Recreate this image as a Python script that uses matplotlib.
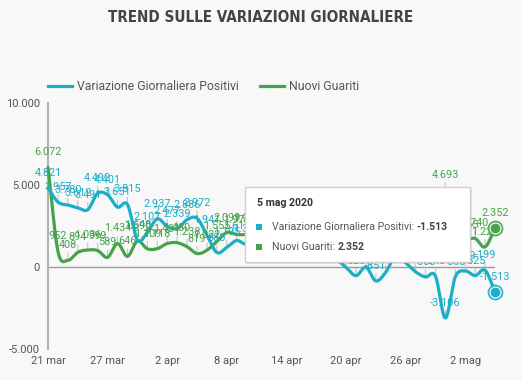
import numpy as np
import matplotlib
matplotlib.use('Agg')
import matplotlib.pyplot as plt
import matplotlib.dates as mdates
from matplotlib.patches import Rectangle
from matplotlib.lines import Line2D
import pandas as pd

# ---------------- data ----------------
dates = pd.date_range('2020-03-21', '2020-05-05', freq='D')
variazione_positivi = [4821, 3957, 3780, 3612, 3491, 4492, 4401, 3651, 3815, 1648,
                       2107, 2937, 2477, 2339, 2886, 2972, 1941, 880, 1195, 1615,
                       1396, 1996, 1984, 1363, 675, 1127, 1189, 355, 809, 486,
                       -20, -528, -10, -851, -321, 680, 256, -290, -608, -548,
                       -3106, -608, -239, -525, -199, -1513]
nuovi_guariti = [6072, 952, 408, 894, 1036, 999, 589, 1434, 646, 1590,
                 1109, 1118, 1431, 1480, 1238, 819, 1022, 1555, 2099, 1979,
                 1985, 2079, 1677, 1224, 1695, 962, 2072, 2563, 2200, 1822,
                 1162, 2723, 2943, 2646, 3033, 2922, 1808, 1696, 2317, 2311,
                 4693, 1872, 1665, 1740, 1225, 2352]
series_names = ['Variazione Giornaliera Positivi', 'Nuovi Guariti']
tick_dates = ['2020-03-21', '2020-03-27', '2020-04-02', '2020-04-08',
              '2020-04-14', '2020-04-20', '2020-04-26', '2020-05-02']
tick_labels = ['21 mar', '27 mar', '2 apr', '8 apr', '14 apr', '20 apr', '26 apr', '2 mag']
y_ticks = [-5000, 0, 5000, 10000]
y_tick_labels = ['-5.000', '0', '5.000', '10.000']
tooltip_date = '5 mag 2020'
title = 'TREND SULLE VARIAZIONI GIORNALIERE'

C_CYAN = '#1aaec7'
C_GREEN = '#46a34a'
TXT = '#555555'

plt.rcParams['font.family'] = ['Roboto', 'DejaVu Sans']

W, H = 522, 380
fig = plt.figure(figsize=(W / 100, H / 100), dpi=100)
fig.patch.set_facecolor('#f8f8f8')

L, R, T, B = 48, 495, 103, 349
ax = fig.add_axes([L / W, 1 - B / H, (R - L) / W, (B - T) / H])
ax.set_facecolor('none')

x = mdates.date2num(dates.to_pydatetime())


def smooth(xv, yv, n=24):
    xv = np.asarray(xv, float)
    yv = np.asarray(yv, float)
    m = np.zeros_like(yv)
    m[1:-1] = (yv[2:] - yv[:-2]) / (xv[2:] - xv[:-2])
    m[0] = (yv[1] - yv[0]) / (xv[1] - xv[0])
    m[-1] = (yv[-1] - yv[-2]) / (xv[-1] - xv[-2])
    xs, ys = [], []
    t = np.linspace(0, 1, n, endpoint=False)
    h00 = 2 * t**3 - 3 * t**2 + 1
    h10 = t**3 - 2 * t**2 + t
    h01 = -2 * t**3 + 3 * t**2
    h11 = t**3 - t**2
    for i in range(len(xv) - 1):
        h = xv[i + 1] - xv[i]
        xs.append(xv[i] + t * h)
        ys.append(h00 * yv[i] + h10 * h * m[i] + h01 * yv[i + 1] + h11 * h * m[i + 1])
    xs.append([xv[-1]])
    ys.append([yv[-1]])
    return np.concatenate(xs), np.concatenate(ys)


def fmt(v):
    return f"{v:,}".replace(',', '.')


ax.set_xlim(x[0], x[-1])
ax.set_ylim(-5000, 10000)

ax.axhline(0, color='#9a9a9a', lw=1.0, zorder=1)

for vals, col in [(nuovi_guariti, C_GREEN), (variazione_positivi, C_CYAN)]:
    sx, sy = smooth(x, vals)
    ax.plot(sx, sy, color=col, lw=2.3, zorder=3, solid_capstyle='round', clip_on=False)

# data labels with leader lines
for vals, col in [(variazione_positivi, C_CYAN), (nuovi_guariti, C_GREEN)]:
    for xi, v in zip(x, vals):
        ax.annotate(fmt(v), xy=(xi, v), xytext=(0, 10), textcoords='offset pixels',
                    ha='center', va='bottom', fontsize=7.8, color='none',
                    arrowprops=dict(arrowstyle='-', color='#c4c4c4', lw=0.8,
                                    shrinkA=0, shrinkB=0),
                    zorder=2, annotation_clip=False)
        ax.annotate(fmt(v), xy=(xi, v), xytext=(0, 10), textcoords='offset pixels',
                    ha='center', va='bottom', fontsize=7.8, color=col, zorder=4,
                    annotation_clip=False)

# highlighted last points
for vals, col in [(variazione_positivi, C_CYAN), (nuovi_guariti, C_GREEN)]:
    ax.plot([x[-1]], [vals[-1]], 'o', ms=10, mfc='#ffffff', mec=col, mew=1.3,
            alpha=0.9, zorder=5, clip_on=False)
    ax.plot([x[-1]], [vals[-1]], 'o', ms=6, mfc=col, mec=col, zorder=6, clip_on=False)

# axes styling
for s in ['top', 'right', 'bottom']:
    ax.spines[s].set_visible(False)
ax.spines['left'].set_color('#b0b0b0')
ax.spines['left'].set_linewidth(1.4)
ax.set_yticks(y_ticks)
ax.set_yticklabels(y_tick_labels)
ax.set_xticks(mdates.date2num(pd.to_datetime(tick_dates).to_pydatetime()))
ax.set_xticklabels(tick_labels)
ax.tick_params(axis='y', length=0, pad=6, labelsize=8, labelcolor=TXT)
ax.tick_params(axis='x', length=0, pad=5, labelsize=8, labelcolor=TXT)

# title
renderer = fig.canvas.get_renderer()
tt = fig.text(0.5, 1 - 18 / H, title, ha='center', va='center',
              fontsize=14, fontweight='bold', fontstretch='condensed', color='#444444',
              family=['DejaVu Sans'])
tw = tt.get_window_extent(renderer).width
tt.set_fontsize(14 * 306 / tw)

# legend (manual)
ly = 1 - 86 / H
for (x0, x1, tx), name, col in zip([(48, 72, 77), (260, 284, 289)], series_names, [C_CYAN, C_GREEN]):
    fig.add_artist(Line2D([x0 / W, x1 / W], [ly, ly], color=col, lw=2.3, transform=fig.transFigure))
    fig.text(tx / W, ly, name, ha='left', va='center', fontsize=8.8, color=TXT)

# tooltip
bx0, by0, bx1, by1 = 245, 187, 470, 262
fig.add_artist(Rectangle(((bx0 + 2) / W, 1 - (by1 + 2) / H), (bx1 - bx0) / W, (by1 - by0) / H,
                         transform=fig.transFigure, facecolor='#000000', alpha=0.08,
                         edgecolor='none', zorder=9))
fig.add_artist(Rectangle((bx0 / W, 1 - by1 / H), (bx1 - bx0) / W, (by1 - by0) / H,
                         transform=fig.transFigure, facecolor='white',
                         edgecolor='#d0d0d0', lw=1, zorder=10))
fig.text(257 / W, 1 - 203 / H, tooltip_date, ha='left', va='center', fontsize=7.6,
         fontweight='bold', color='#333333', zorder=11)
rows = [(variazione_positivi, C_CYAN, 227), (nuovi_guariti, C_GREEN, 247)]
for (vals, col, yy), name in zip(rows, series_names):
    fig.add_artist(Rectangle((256 / W, 1 - (yy + 3) / H), 6 / W, 6 / H, transform=fig.transFigure,
                             facecolor=col, edgecolor='none', zorder=11))
    t1 = fig.text(272 / W, 1 - yy / H, name + ': ', ha='left', va='center', fontsize=7.6,
                  color=TXT, zorder=11)
    bb = t1.get_window_extent(renderer)
    fig.text(bb.x1 / W, 1 - yy / H, fmt(vals[-1]), ha='left', va='center', fontsize=7.6,
             fontweight='bold', color='#444444', zorder=11)

fig.savefig('out.png', dpi=100, facecolor=fig.get_facecolor())
